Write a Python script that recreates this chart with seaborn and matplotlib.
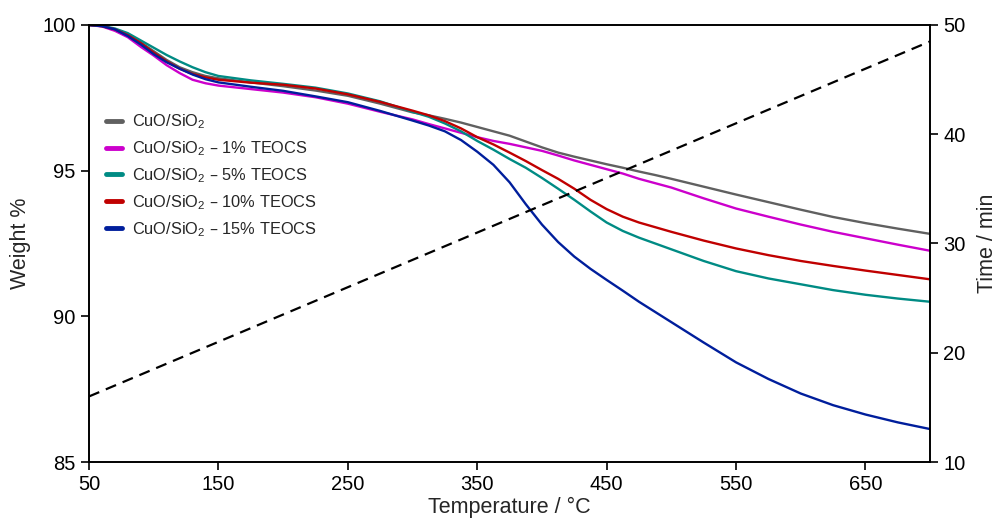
import numpy as np
import pandas as pd
import matplotlib
matplotlib.use("Agg")
import matplotlib.pyplot as plt
import seaborn as sns

# Temperature grid (°C) and weight % for each sample
temperature = [50, 60, 70, 80, 90, 100, 110, 120, 130, 140, 150, 175, 200, 225,
               250, 275, 300, 312.5, 325, 337.5, 350, 362.5, 375, 387.5, 400,
               412.5, 425, 437.5, 450, 462.5, 475, 487.5, 500, 525, 550, 575,
               600, 625, 650, 675, 700]

cuo_sio2 = [100, 99.97, 99.85, 99.65, 99.4, 99.1, 98.8, 98.55, 98.38, 98.25,
            98.17, 98.03, 97.9, 97.75, 97.57, 97.3, 97.0, 96.9, 96.78, 96.65,
            96.5, 96.35, 96.2, 96.0, 95.8, 95.62, 95.48, 95.35, 95.22, 95.1,
            94.97, 94.85, 94.72, 94.45, 94.18, 93.92, 93.66, 93.41, 93.2, 93.01,
            92.83]

teocs_1 = [100, 99.95, 99.8, 99.58, 99.25, 98.95, 98.62, 98.35, 98.12, 98.0,
           97.92, 97.8, 97.68, 97.52, 97.3, 97.02, 96.76, 96.6, 96.45, 96.3,
           96.15, 96.02, 95.92, 95.8, 95.68, 95.52, 95.35, 95.2, 95.05, 94.9,
           94.72, 94.57, 94.42, 94.05, 93.7, 93.42, 93.15, 92.9, 92.68, 92.46,
           92.25]

teocs_5 = [100, 99.97, 99.88, 99.72, 99.47, 99.22, 98.97, 98.75, 98.55, 98.38,
           98.25, 98.1, 97.98, 97.85, 97.65, 97.38, 97.02, 96.85, 96.62, 96.35,
           96.02, 95.72, 95.4, 95.1, 94.75, 94.38, 94.0, 93.6, 93.22, 92.93,
           92.7, 92.5, 92.3, 91.9, 91.55, 91.3, 91.1, 90.9, 90.74, 90.61,
           90.5]

teocs_10 = [100, 99.96, 99.85, 99.65, 99.38, 99.05, 98.75, 98.5, 98.32, 98.2,
            98.12, 98.02, 97.95, 97.82, 97.62, 97.36, 97.06, 96.9, 96.7, 96.45,
            96.15, 95.9, 95.62, 95.33, 95.02, 94.72, 94.38, 94.0, 93.68, 93.42,
            93.22, 93.06, 92.9, 92.6, 92.33, 92.1, 91.9, 91.73, 91.57, 91.42,
            91.27]

teocs_15 = [100, 99.96, 99.85, 99.62, 99.33, 99.0, 98.72, 98.5, 98.3, 98.14,
            98.03, 97.88, 97.74, 97.55, 97.35, 97.05, 96.72, 96.55, 96.35, 96.05,
            95.65, 95.2, 94.6, 93.85, 93.15, 92.55, 92.05, 91.63, 91.25, 90.88,
            90.5, 90.15, 89.8, 89.1, 88.42, 87.85, 87.35, 86.95, 86.63, 86.36,
            86.13]

series_names = ["CuO/SiO$_2$",
                "CuO/SiO$_2$ – 1% TEOCS",
                "CuO/SiO$_2$ – 5% TEOCS",
                "CuO/SiO$_2$ – 10% TEOCS",
                "CuO/SiO$_2$ – 15% TEOCS"]
series_colors = ["#606060", "#cc00cc", "#008b84", "#c00000", "#001e9c"]

# Heating programme: time against temperature
time_temperature = [50, 700]
time_minutes = [16, 48.5]

frames = []
for name, values in zip(series_names,
                        [cuo_sio2, teocs_1, teocs_5, teocs_10, teocs_15]):
    frames.append(pd.DataFrame({"Temperature": temperature,
                                "Weight": values,
                                "Sample": name}))
tga = pd.concat(frames, ignore_index=True)
program = pd.DataFrame({"Temperature": time_temperature, "Time": time_minutes})

sns.set_style("ticks")
plt.rcParams["font.family"] = ["Liberation Sans", "DejaVu Sans"]
plt.rcParams["mathtext.default"] = "regular"
plt.rcParams["axes.linewidth"] = 1.2
plt.rcParams["lines.solid_joinstyle"] = "round"

fig = plt.figure(figsize=(9.99, 5.25), dpi=100)
ax = fig.add_axes([0.0891, 0.12, 0.8420, 0.8324])

sns.lineplot(data=tga, x="Temperature", y="Weight", hue="Sample",
             hue_order=series_names, palette=series_colors, sort=False,
             estimator=None, linewidth=1.7, ax=ax)

ax2 = ax.twinx()
sns.lineplot(data=program, x="Temperature", y="Time", ax=ax2,
             color="black", linewidth=1.6, dashes=False, linestyle=(0, (5, 3.2)))

ax.set_xlim(50, 700)
ax.set_ylim(85, 100)
ax.set_xticks([50, 150, 250, 350, 450, 550, 650])
ax.set_yticks([85, 90, 95, 100])
ax2.set_ylim(10, 50)
ax2.set_yticks([10, 20, 30, 40, 50])

ax.set_xlabel("Temperature / °C", fontsize=15.5, labelpad=2)
ax.set_ylabel("Weight %", fontsize=15.5, labelpad=8)
ax2.set_ylabel("Time / min", fontsize=15.5, labelpad=8)

for a in (ax, ax2):
    a.tick_params(axis="both", labelsize=14.5, length=6, width=1.2,
                  direction="out", colors="black")
    for s in a.spines.values():
        s.set_visible(True)
        s.set_color("black")
        s.set_linewidth(1.2)

handles, labels = ax.get_legend_handles_labels()
for h in handles:
    h.set_linewidth(3.5)
leg = ax.legend(handles, labels, loc="upper left",
                bbox_to_anchor=(0.012, 0.815), frameon=False, fontsize=11.8,
                handlelength=1.0, handletextpad=0.6, labelspacing=0.5,
                borderaxespad=0.0)

fig.savefig("out.png", dpi=100)
